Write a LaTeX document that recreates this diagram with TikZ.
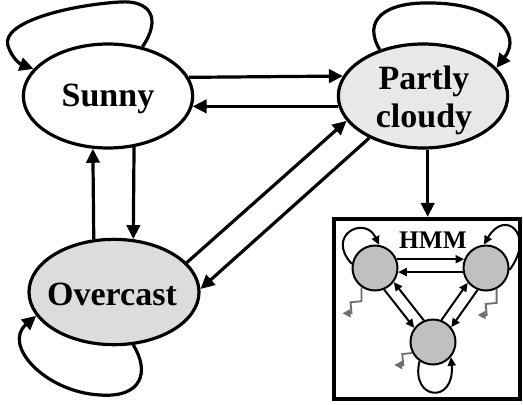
\documentclass[tikz,border=0pt]{standalone}
\usepackage{fontspec}
\setmainfont{Liberation Serif}
\usetikzlibrary{arrows.meta,shapes.geometric}

\definecolor{pcfill}{HTML}{E8E8E8}
\definecolor{ocfill}{HTML}{DCDCDC}
\definecolor{hmmfill}{HTML}{C0C0C0}
\definecolor{emitgray}{HTML}{6E6E6E}

\tikzset{
  weather/.style={ellipse, draw, line width=2.4pt, inner sep=0pt,
    minimum width=127pt, minimum height=78pt, align=center},
  wtext/.style={align=center, inner sep=0pt,
    font=\fontsize{25.5}{28.5}\selectfont\bfseries},
  trans/.style={line width=2.4pt, -{Triangle[length=10.5pt,width=10pt]}},
  hstate/.style={circle, draw, line width=1.5pt, fill=hmmfill,
    minimum size=33.75pt, inner sep=0pt},
  htrans/.style={line width=1.5pt, -{Triangle[length=6.5pt,width=6pt]}},
  emit/.style={draw=emitgray, line width=1.4pt,
    -{Triangle[length=6pt,width=6pt]}, emitgray}
}

\begin{document}
\begin{tikzpicture}[x=0.75pt,y=-0.75pt]
\useasboundingbox (0,0) rectangle (523,404);

% weather states
\node[weather] (sunny) at (108,96) {};
\node[wtext] (sunnytext) at (108,99) {Sunny};
\node[weather, fill=pcfill] (partly) at (423,96) {};
\node[wtext] (partlytext) at (424,100) {Partly\\cloudy};
\node[weather, fill=ocfill, minimum width=127.5pt, minimum height=79pt] (over) at (114,292) {};
\node[wtext] (overtext) at (112,294) {Overcast};

% transitions between weather states
\draw[trans] (sunny.13.3) -- (partly.166.7);
\draw[trans] (partly.187.5) -- (sunny.-7.5);
\draw[trans] (over.111.8) -- (sunny.-106);
\draw[trans] (sunny.-63.7) -- (over.70.2);
\draw[trans] (over.22.9) -- (partly.198.6);
\draw[trans] (partly.218.7) -- (over.2.7);

% self loops
\draw[trans] (sunny.55.5) .. controls (162,18) and (150,0) .. (120,2)
  .. controls (70,5) and (0,22) .. (8,46)
  .. controls (12,58) and (20,64) .. (sunny.160);
\draw[trans] (partly.133) .. controls (362,20) and (385,2) .. (430,3)
  .. controls (490,3) and (524,32) .. (partly.21.4);
\draw[trans] (over.-70.3) .. controls (150,372) and (142,398) .. (100,395)
  .. controls (45,392) and (2,345) .. (over.197.8);

% embedded HMM
\node[draw, line width=3.2pt, minimum width=139.5pt, minimum height=135pt, inner sep=0pt] (hmmbox) at (427,309) {};
\draw[trans] (partly.-85.3) -- (partly.-85.3 |- hmmbox.north);
\node[font=\fontsize{19}{22}\selectfont\bfseries] (hmmlabel) at (433,240) {HMM};

\node[hstate] (a) at (375,268) {};
\node[hstate] (b) at (486,268) {};
\node[hstate] (c) at (433,342) {};

\draw[htrans] (a.22) -- (b.158);
\draw[htrans] (b.190.5) -- (a.-10.5);
\draw[htrans] (a.-67) -- (c.143);
\draw[htrans] (c.113) -- (a.-37);
\draw[htrans] (c.69) -- (b.219);
\draw[htrans] (b.249) -- (c.39);

\draw[htrans] (a.170) .. controls (325,235) and (365,215) .. (a.80);
\draw[htrans] (b.-5) .. controls (536,235) and (505,208) .. (b.95);
\draw[htrans] (c.235) .. controls (410,400) and (455,405) .. (c.-40);

% emissions
\draw[emit] (a.-125) -- ++(0,14) -- ++(-11,1) -- ++(1,11) -- ++(-9,0);
\draw[emit] (b.-63) -- ++(0,14) -- ++(-11,1) -- ++(1,11) -- ++(-9,0);
\draw[emit] (c.-152) -- ++(-10,1) -- ++(1,11) -- ++(-9,0);
\end{tikzpicture}
\end{document}
